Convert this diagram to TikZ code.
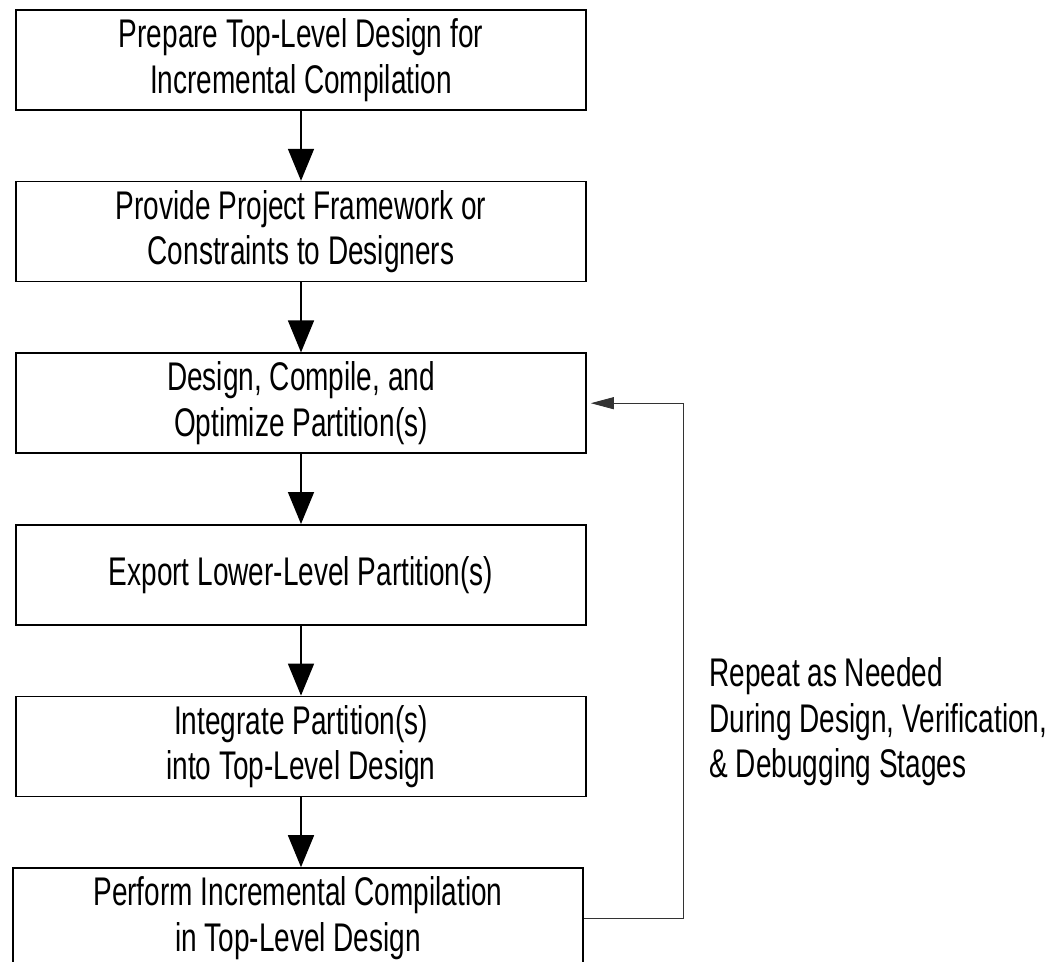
\documentclass[tikz,border=0pt]{standalone}
\usepackage{fontspec}
\setmainfont{Liberation Sans}[FakeStretch=0.7]
\usepackage{tikz}
\usetikzlibrary{arrows.meta,positioning}

\begin{document}
\begin{tikzpicture}[x=1pt, y=1pt, node distance=70pt, every node/.style={font=\fontsize{40}{45.5}\selectfont}, stage/.style={draw, line width=1.6pt, minimum width=570pt, minimum height=100pt, align=center, inner sep=0pt}, arr/.style={-{Triangle[length=32pt,width=26pt]}, line width=1.6pt}, back/.style={-{Triangle[length=23pt,width=12pt]}, line width=0.9pt, black!80, shorten >=4pt}]
\useasboundingbox (0,0) rectangle (1062,-961);
\clip (0,0) rectangle (1062,-961);
\node[stage] (prepare) at (301,-60) {Prepare Top-Level Design for\\Incremental Compilation};
\node[stage,below=of prepare] (provide) {Provide Project Framework or\\Constraints to Designers};
\node[stage,below=of provide] (design) {Design, Compile, and\\Optimize Partition(s)};
\node[stage,below=of design] (export) {Export Lower-Level Partition(s)};
\node[stage,below=of export] (integrate) {Integrate Partition(s)\\into Top-Level Design};
\node[stage,below=of integrate,xshift=-3pt] (perform) {Perform Incremental Compilation\\in Top-Level Design};
\node[anchor=west, align=left] (repeat) at (706,-722) {Repeat as Needed\\During Design, Verification,\\\& Debugging Stages};
\draw[arr] (prepare)--(provide);
\draw[arr] (provide)--(design);
\draw[arr] (design)--(export);
\draw[arr] (export)--(integrate);
\draw[arr] (integrate)--(perform.north -| integrate.south);
\draw[back] (perform.east)--++(100,0)|-(design.east);
\end{tikzpicture}
\end{document}
